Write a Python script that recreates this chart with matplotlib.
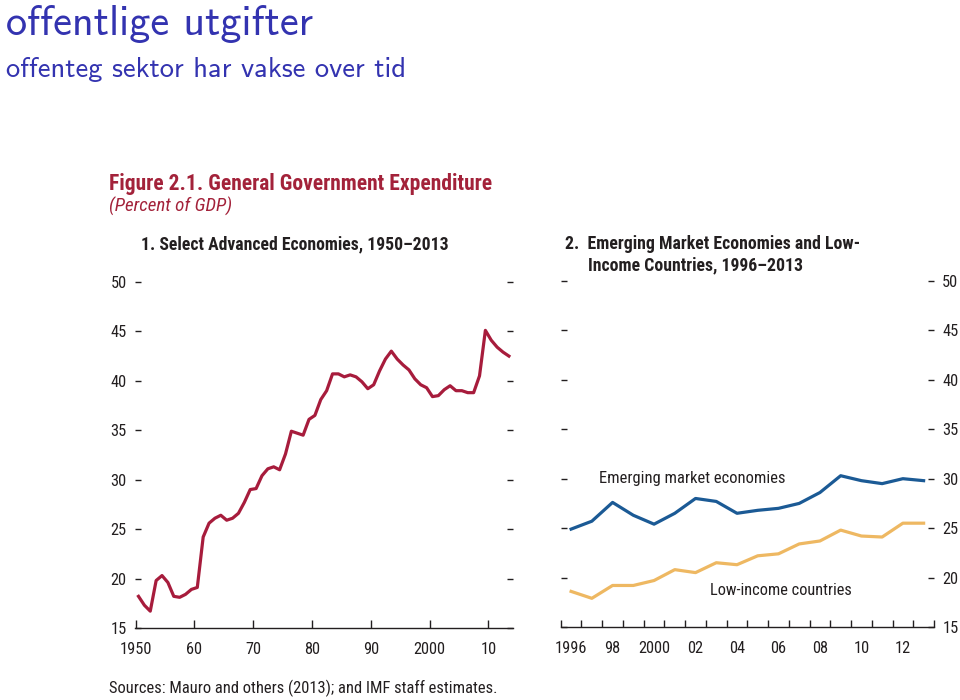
import matplotlib
matplotlib.use("Agg")
import matplotlib.pyplot as plt
import numpy as np

# ---- data ----
adv_years = list(range(1950, 2014))
adv_values = [
    18.2, 17.3, 16.7, 19.8, 20.3, 19.6, 18.2, 18.1, 18.4, 18.9,   # 1950s
    19.1, 24.2, 25.6, 26.1, 26.4, 25.9, 26.1, 26.6, 27.7, 29.0,   # 1960s
    29.1, 30.4, 31.1, 31.3, 31.0, 32.6, 34.9, 34.7, 34.5, 36.1,   # 1970s
    36.5, 38.1, 39.0, 40.7, 40.7, 40.4, 40.6, 40.4, 39.9, 39.2,   # 1980s
    39.6, 41.0, 42.2, 43.0, 42.2, 41.6, 41.1, 40.2, 39.6, 39.3,   # 1990s
    38.4, 38.5, 39.1, 39.5, 39.0, 39.0, 38.8, 38.8, 40.5, 45.1,   # 2000s
    44.1, 43.4, 42.9, 42.5,                                       # 2010s
]

em_years = list(range(1996, 2014))
emerging = [24.9, 25.7, 27.6, 26.3, 25.4, 26.5, 28.0, 27.7, 26.5,
            26.8, 27.0, 27.5, 28.6, 30.3, 29.8, 29.5, 30.0, 29.8]
low_income = [18.6, 17.9, 19.2, 19.2, 19.7, 20.8, 20.5, 21.5, 21.3,
              22.2, 22.4, 23.4, 23.7, 24.8, 24.2, 24.1, 25.5, 25.5]

y_ticks = [15, 20, 25, 30, 35, 40, 45, 50]
left_xticks = [1950, 1960, 1970, 1980, 1990, 2000, 2010]
left_xlabels = ["1950", "60", "70", "80", "90", "2000", "10"]
right_label_years = [1996, 1998, 2000, 2002, 2004, 2006, 2008, 2010, 2012]
right_xlabels = ["1996", "98", "2000", "02", "04", "06", "08", "10", "12"]

RED = "#A71C3C"
TITLE_RED = "#A3223A"
BLUE = "#1B5A95"
ORANGE = "#EEB862"
BEAMER = "#3333B0"
NARROW = ["Roboto Condensed", "Liberation Sans", "DejaVu Sans"]

plt.rcParams.update({
    "font.family": NARROW,
    "font.size": 11.8,
    "text.color": "#231F20",
    "xtick.color": "#231F20",
    "ytick.color": "#231F20",
})

fig = plt.figure(figsize=(9.6, 7.0), dpi=100)
fig.patch.set_facecolor("white")

# slide title / subtitle
fig.text(0.006, 0.950, "offentlige utgifter", family="cmss10", fontsize=30.5,
         color=BEAMER, ha="left", va="baseline")
fig.text(0.006, 0.890, "offenteg sektor har vakse over tid", family="cmss10",
         fontsize=20.5, color=BEAMER, ha="left", va="baseline")

# figure header
fig.text(0.114, 0.729, "Figure 2.1. General Government Expenditure",
         fontsize=15.5, fontweight="bold", color=TITLE_RED, ha="left", va="baseline")
fig.text(0.114, 0.697, "(Percent of GDP)", fontsize=13.7, style="italic",
         color=TITLE_RED, ha="left", va="baseline")


def style_axes(ax):
    for s in ("top", "left", "right"):
        ax.spines[s].set_visible(False)
    ax.spines["bottom"].set_linewidth(1.0)
    ax.spines["bottom"].set_color("#231F20")
    ax.set_ylim(15, 50.5)
    ax.set_yticks(y_ticks)
    ax.tick_params(axis="y", direction="in", length=4.5, width=1.0, pad=6,
                   left=True, right=True, labelsize=11.8)
    ax.tick_params(axis="x", which="both", direction="in", width=1.0,
                   labelsize=11.8)


# ---- panel 1 ----
ax1 = fig.add_axes([0.1406, 0.1029, 0.3938, 0.5014])
ax1.plot(np.array(adv_years) + 0.5, adv_values, color=RED, lw=2.3,
         solid_joinstyle="round")
ax1.set_xlim(1949.9, 2014.2)
style_axes(ax1)
ax1.tick_params(axis="y", labelleft=True, labelright=False)
ax1.set_xticks(left_xticks)
ax1.set_xticklabels(left_xlabels)
ax1.tick_params(axis="x", length=6, pad=10)
fig.text(0.147, 0.643, "1. Select Advanced Economies, 1950\u20132013",
         fontsize=12.7, fontweight="bold", ha="left", va="baseline")

# ---- panel 2 ----
ax2 = fig.add_axes([0.5841, 0.1043, 0.3888, 0.5014])
ax2.plot(np.array(em_years) + 0.5, emerging, color=BLUE, lw=2.3,
         solid_joinstyle="round")
ax2.plot(np.array(em_years) + 0.5, low_income, color=ORANGE, lw=2.3,
         solid_joinstyle="round")
ax2.set_xlim(1996, 2014)
style_axes(ax2)
ax2.tick_params(axis="y", labelleft=False, labelright=True)
ax2.set_xticks(list(range(1996, 2015)))
ax2.set_xticklabels([])
ax2.tick_params(axis="x", which="major", length=5)
ax2.set_xticks(np.array(right_label_years) + 0.5, minor=True)
ax2.set_xticklabels(right_xlabels, minor=True)
ax2.tick_params(axis="x", which="minor", length=0, pad=10)
ax2.text(1997.85, 30.0, "Emerging market economies", fontsize=11.9,
         ha="left", va="center")
ax2.text(2003.2, 18.65, "Low-income countries", fontsize=11.8,
         ha="left", va="center")
fig.text(0.589, 0.644, "2.  Emerging Market Economies and Low-",
         fontsize=12.8, fontweight="bold", ha="left", va="baseline")
fig.text(0.612, 0.613, "Income Countries, 1996\u20132013",
         fontsize=12.8, fontweight="bold", ha="left", va="baseline")

fig.text(0.114, 0.010, "Sources: Mauro and others (2013); and IMF staff estimates.",
         fontsize=11.85, ha="left", va="baseline")

fig.savefig("out.png", dpi=100, facecolor="white")
